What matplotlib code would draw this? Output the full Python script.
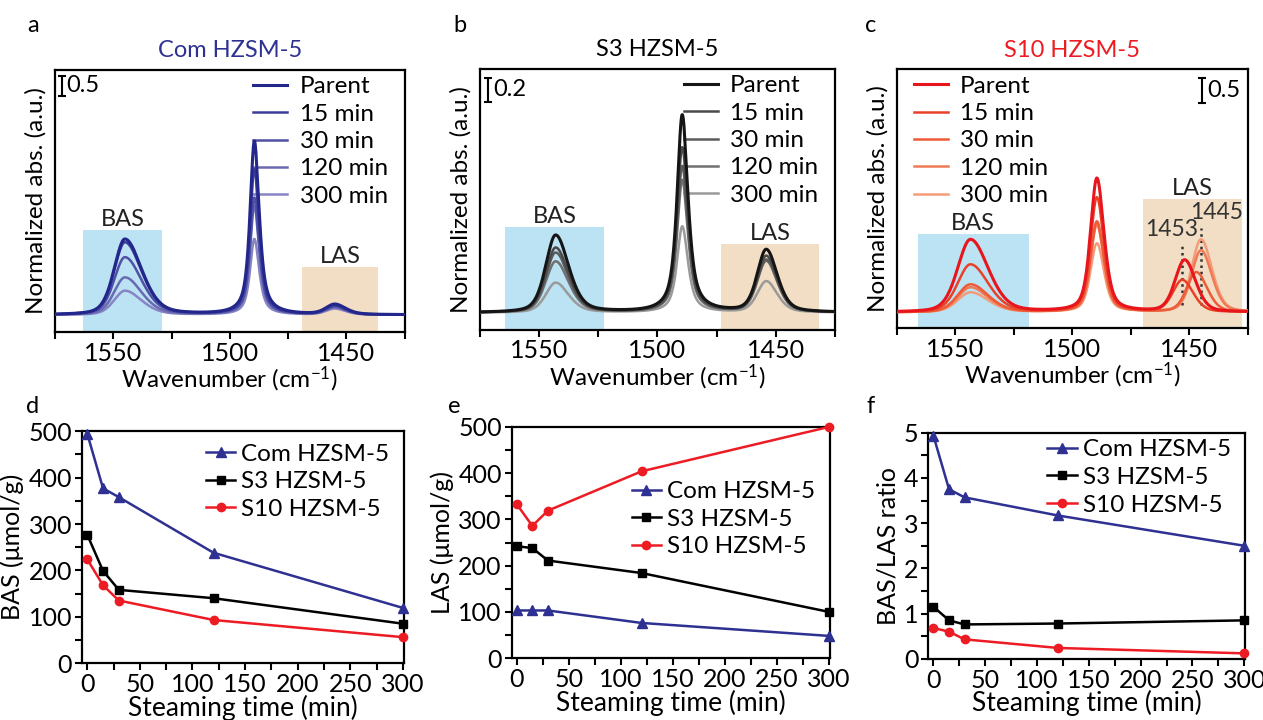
import matplotlib.pyplot as plt
import numpy as np
from matplotlib.patches import Rectangle
from matplotlib.ticker import MultipleLocator

plt.rcParams["font.family"] = ["Lato", "DejaVu Sans"]
plt.rcParams["font.size"] = 17
plt.rcParams["mathtext.default"] = "regular"
plt.rcParams["axes.linewidth"] = 1.6

# ---- IR spectra: band heights (a.u., above baseline) ----
samples = ["Parent", "15 min", "30 min", "120 min", "300 min"]

com_bas = [1.88, 1.80, 1.43, 0.93, 0.60]
com_1490 = [4.30, 3.60, 2.90, 2.70, 1.88]
com_las = [0.25, 0.22, 0.20, 0.18, 0.15]

s3_bas = [0.62, 0.52, 0.48, 0.41, 0.24]
s3_1490 = [1.58, 1.32, 1.17, 1.06, 0.69]
s3_las = [0.50, 0.45, 0.42, 0.41, 0.25]

s10_bas = [1.46, 0.96, 0.56, 0.50, 0.40]
s10_1490 = [2.68, 2.30, 1.82, 1.75, 1.38]
s10_las = [1.04, 0.64, 0.80, 1.24, 1.46]
s10_las_pos = [1452, 1453, 1447, 1445, 1445]

com_colors = ["#23268a", "#3a3c98", "#5050a6", "#6a69b4", "#8784c4"]
s3_colors = ["#151515", "#4a4a4a", "#5c5c5c", "#707070", "#9a9a9a"]
s10_colors = ["#e8161c", "#ea4027", "#ed5b38", "#f07a55", "#f49c7a"]

# ---- acid site quantification ----
times = [0, 15, 30, 120, 300]
bas_com = [495, 377, 358, 238, 119]
bas_s3 = [277, 199, 158, 140, 85]
bas_s10 = [224, 168, 135, 93, 56]
las_com = [103, 103, 103, 76, 48]
las_s3 = [242, 238, 211, 184, 100]
las_s10 = [333, 286, 319, 404, 500]
ratio_com = [4.93, 3.75, 3.57, 3.17, 2.50]
ratio_s3 = [1.15, 0.85, 0.76, 0.78, 0.85]
ratio_s10 = [0.68, 0.60, 0.43, 0.24, 0.12]

NAVY = "#2e3192"
RED = "#ed1c24"
BLUE_BOX = "#bbe3f3"
TAN_BOX = "#f1dec4"


def band(x, x0, w_hi, w_lo, eta):
    # asymmetric pseudo-Voigt, w_hi on the high-wavenumber side
    w = np.where(x >= x0, w_hi, w_lo)
    u = (x - x0) / w
    return eta / (1 + u**2) + (1 - eta) * np.exp(-np.log(2) * u**2)


wn = np.linspace(1425, 1575, 1500)

fig = plt.figure(figsize=(12.63, 7.2), dpi=100)

spec_panels = [
    dict(pos=[0.0435, 0.539, 0.277, 0.364], title="Com HZSM-5", tcolor=NAVY,
         bas=com_bas, mid=com_1490, las=com_las, las_pos=[1455] * 5,
         colors=com_colors, base=0.42, ylim=6.5,
         wb=(1545, 5.5, 8.5, 0.35), wm=(1489.5, 2.2, 2.5, 0.75), wl=(4.5, 5.5, 0.4),
         bas_box=(1529, 1563, 2.52), las_box=(1436.5, 1469, 1.6),
         scale=(1572, 6.1, 0.5), leg="upper right"),
    dict(pos=[0.380, 0.542, 0.281, 0.3625], title="S3 HZSM-5", tcolor="black",
         bas=s3_bas, mid=s3_1490, las=s3_las, las_pos=[1454] * 5,
         colors=s3_colors, base=0.136, ylim=2.09,
         wb=(1543, 5.0, 6.5, 0.4), wm=(1489.5, 2.6, 2.9, 0.75), wl=(4.5, 5.5, 0.4),
         bas_box=(1522.5, 1564.5, 0.82), las_box=(1431.5, 1473, 0.69),
         scale=(1571.5, 1.92, 0.2), leg="upper right"),
    dict(pos=[0.710, 0.544, 0.278, 0.36], title="S10 HZSM-5", tcolor=RED,
         bas=s10_bas, mid=s10_1490, las=s10_las, las_pos=s10_las_pos,
         colors=s10_colors, base=0.32, ylim=5.2,
         wb=(1543.5, 6.5, 9.0, 0.3), wm=(1489.5, 3.2, 3.6, 0.5), wl=(4.8, 5.5, 0.3),
         bas_box=(1518.7, 1566, 1.9), las_box=(1427.3, 1469.7, 2.6),
         scale=(1444.5, 4.77, 0.5), leg="upper left"),
]

for p in spec_panels:
    ax = fig.add_axes(p["pos"])
    lo, hi, top = p["bas_box"]
    ax.add_patch(Rectangle((lo, 0), hi - lo, top, color=BLUE_BOX, lw=0, zorder=0))
    ax.text((lo + hi) / 2, top, "BAS", ha="center", va="bottom", color="#222222",
            fontsize=17)
    lo, hi, top = p["las_box"]
    ax.add_patch(Rectangle((lo, 0), hi - lo, top, color=TAN_BOX, lw=0, zorder=0))
    ax.text((lo + hi) / 2, top, "LAS", ha="center", va="bottom", color="#222222",
            fontsize=17)

    for i in range(len(samples)):
        y = (p["base"]
             + p["bas"][i] * band(wn, *p["wb"])
             + p["mid"][i] * band(wn, *p["wm"])
             + p["las"][i] * band(wn, p["las_pos"][i], *p["wl"]))
        ax.plot(wn, y, color=p["colors"][i], lw=2.2 if i == 0 else 1.8,
                label=samples[i], zorder=10 - i)

    sx, sy, sl = p["scale"]
    ax.errorbar([sx], [sy], yerr=sl / 2, fmt="none", ecolor="black",
                elinewidth=1.5, capsize=3, capthick=1.5)
    ax.text(sx - 2.0, sy, f"{sl}", ha="left", va="center", fontsize=17)

    ax.set_xlim(1575, 1425)
    ax.set_ylim(0, p["ylim"])
    ax.xaxis.set_major_locator(MultipleLocator(50))
    ax.xaxis.set_minor_locator(MultipleLocator(25))
    ax.tick_params(axis="x", which="both", direction="out", length=5, width=1.5,
                   labelsize=18, pad=2)
    ax.set_yticks([])
    ax.set_xlabel("Wavenumber (cm$^{-1}$)", labelpad=0, fontsize=17.5)
    ax.set_ylabel("Normalized abs. (a.u.)", labelpad=6, fontsize=17.5)
    ax.set_title(p["title"], color=p["tcolor"], pad=9, fontsize=17)
    anchor = (1.0, 1.04) if p["leg"] == "upper right" else (0.0, 1.04)
    ax.legend(loc=p["leg"], bbox_to_anchor=anchor, frameon=False,
              handlelength=1.4, labelspacing=0.26, handletextpad=0.5,
              borderaxespad=0.3, fontsize=17.5)

# dotted markers for the LAS band shift in S10
ax_c = fig.axes[2]
shift_pos = [1453, 1445]
shift_top = [1.66, 2.02]
shift_lbl_x = [1457.7, 1438.3]
shift_lbl_y = [1.78, 2.12]
for x0, ytop, lx, ly in zip(shift_pos, shift_top, shift_lbl_x, shift_lbl_y):
    ax_c.plot([x0, x0], [0.46, ytop], ls=(0, (1, 1.5)), color="#333333", lw=1.8)
    ax_c.text(lx, ly, str(x0), ha="center", va="bottom", fontsize=16.5,
              color="#333333")

# ---- bottom row: quantification ----
line_panels = [
    dict(pos=[0.0649, 0.079, 0.255, 0.322], com=bas_com, s3=bas_s3, s10=bas_s10,
         ylim=500, major=100, minor=50, ylabel="BAS (μmol/g)",
         leg=dict(loc="upper right", bbox_to_anchor=(1.0, 1.01))),
    dict(pos=[0.405, 0.086, 0.252, 0.321], com=las_com, s3=las_s3, s10=las_s10,
         ylim=500, major=100, minor=50, ylabel="LAS (μmol/g)",
         leg=dict(loc="center right", bbox_to_anchor=(1.0, 0.6))),
    dict(pos=[0.735, 0.085, 0.251, 0.314], com=ratio_com, s3=ratio_s3, s10=ratio_s10,
         ylim=5, major=1, minor=0.5, ylabel="BAS/LAS ratio",
         leg=dict(loc="upper right", bbox_to_anchor=(1.0, 1.035))),
]

for p in line_panels:
    ax = fig.add_axes(p["pos"])
    ax.plot(times, p["com"], "-^", color=NAVY, lw=1.8, ms=7, label="Com HZSM-5",
            clip_on=False, zorder=5)
    ax.plot(times, p["s3"], "-s", color="black", lw=1.8, ms=6, label="S3 HZSM-5",
            clip_on=False, zorder=5)
    ax.plot(times, p["s10"], "-o", color=RED, lw=1.8, ms=6, label="S10 HZSM-5",
            clip_on=False, zorder=5)
    ax.set_xlim(-5, 301)
    ax.set_ylim(0, p["ylim"])
    ax.xaxis.set_major_locator(MultipleLocator(50))
    ax.xaxis.set_minor_locator(MultipleLocator(25))
    ax.yaxis.set_major_locator(MultipleLocator(p["major"]))
    ax.yaxis.set_minor_locator(MultipleLocator(p["minor"]))
    ax.tick_params(which="both", direction="out", length=5, width=1.5, labelsize=18,
                   pad=2)
    ax.set_xlabel("Steaming time (min)", labelpad=-1, fontsize=19)
    ax.set_ylabel(p["ylabel"], labelpad=3, fontsize=18)
    ax.legend(frameon=False, handlelength=1.2, handletextpad=0.25, labelspacing=0.27,
              borderaxespad=0.2, fontsize=17.5, **p["leg"])

for letter, x, y in [("a", 0.026, 0.965), ("b", 0.364, 0.965), ("c", 0.689, 0.965),
                     ("d", 0.026, 0.436), ("e", 0.360, 0.436), ("f", 0.689, 0.436)]:
    fig.text(x, y, letter, fontsize=17, ha="center", va="center")

fig.savefig("out.png", dpi=100)
